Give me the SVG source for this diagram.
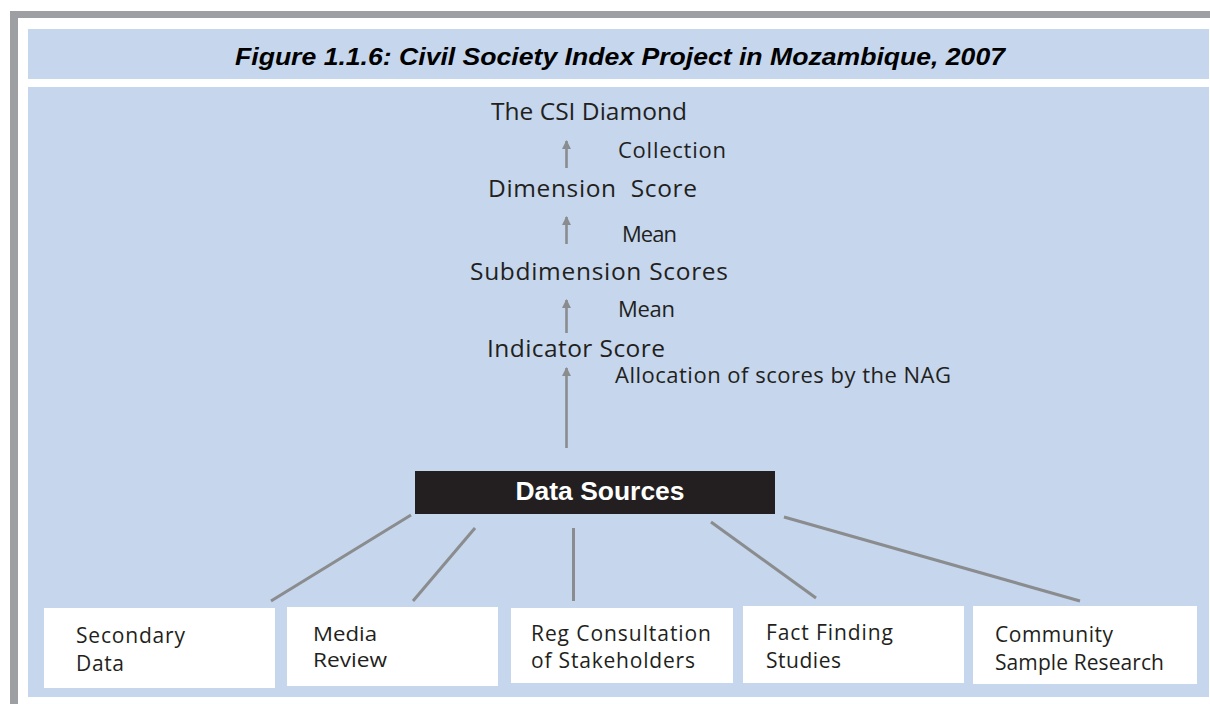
<svg xmlns="http://www.w3.org/2000/svg" width="1210" height="704" viewBox="0 0 1210 704">
<defs>
<style>
.band{fill:#c5d6ed}
.lbl{font-family:"Open Sans","Liberation Sans",sans-serif;fill:#231f20}
.big{font-size:24.5px}
.small{font-size:22px}
.box{fill:#ffffff}
.btxt{font-family:"Open Sans","Liberation Sans",sans-serif;fill:#231f20;font-size:21px}
.conn line{stroke:#8a8c8e;stroke-width:3}
.shaft{stroke:#8a8c8e;stroke-width:2.6}
</style>
<marker id="ah" viewBox="0 0 10 10" refX="9" refY="5" markerWidth="3.6" markerHeight="3.6" orient="auto" markerUnits="strokeWidth">
<path d="M0,0 L10,5 L0,10 Z" fill="#8a8c8e"/>
</marker>
</defs>
<rect x="0" y="0" width="1210" height="704" fill="#ffffff"/>
<rect x="10" y="11" width="1200" height="7" fill="#9d9fa2"/>
<rect x="10" y="11" width="8" height="693" fill="#9d9fa2"/>
<rect class="band" x="28" y="29" width="1181" height="50"/>
<rect class="band" x="28" y="87" width="1181" height="610"/>
<text x="235" y="65" font-family="'Liberation Sans',Arial,sans-serif" font-weight="bold" font-style="italic" font-size="23.5" fill="#000" textLength="770" lengthAdjust="spacingAndGlyphs">Figure 1.1.6: Civil Society Index Project in Mozambique, 2007</text>

<g id="csi-diamond"><text class="lbl big" x="491" y="120" textLength="196">The CSI Diamond</text></g>
<g id="dimension-score"><text class="lbl big" x="488" y="197" textLength="209" xml:space="preserve">Dimension  Score</text></g>
<g id="subdimension-scores"><text class="lbl big" x="470" y="280" textLength="258">Subdimension Scores</text></g>
<g id="indicator-score"><text class="lbl big" x="487" y="357" textLength="178">Indicator Score</text></g>

<g id="connectors">
<g id="arrows">
<line class="shaft" x1="566.5" y1="168" x2="566.5" y2="141" marker-end="url(#ah)"/>
<line class="shaft" x1="566.5" y1="244" x2="566.5" y2="217" marker-end="url(#ah)"/>
<line class="shaft" x1="566.5" y1="333" x2="566.5" y2="300" marker-end="url(#ah)"/>
<line class="shaft" x1="566.5" y1="448" x2="566.5" y2="368" marker-end="url(#ah)"/>
</g>
<text class="lbl small" x="618" y="158" textLength="108">Collection</text>
<text class="lbl small" x="622" y="242" textLength="55">Mean</text>
<text class="lbl small" x="618" y="317" textLength="57">Mean</text>
<text class="lbl small" x="615" y="383" textLength="336">Allocation of scores by the NAG</text>
<g class="conn">
<line x1="411" y1="515" x2="271" y2="601"/>
<line x1="475" y1="528" x2="413" y2="601"/>
<line x1="573.5" y1="528" x2="573.5" y2="601"/>
<line x1="711" y1="522" x2="816" y2="598"/>
<line x1="784" y1="517" x2="1080" y2="601"/>
</g>
</g>

<g id="data-sources">
<rect x="415" y="471" width="360" height="43" fill="#231f20"/>
<text x="600" y="500" text-anchor="middle" font-family="'Liberation Sans',Arial,sans-serif" font-weight="bold" font-size="26" fill="#ffffff" textLength="169" lengthAdjust="spacingAndGlyphs">Data Sources</text>
</g>

<g id="secondary-data">
<rect class="box" x="44" y="608" width="231" height="80"/>
<text class="btxt" x="76" y="643" textLength="109">Secondary</text>
<text class="btxt" x="76" y="671" textLength="48">Data</text>
</g>
<g id="media-review">
<rect class="box" x="287" y="607" width="211" height="79"/>
<text class="btxt" x="313" y="641" textLength="64" lengthAdjust="spacingAndGlyphs" style="font-size:19.5px">Media</text>
<text class="btxt" x="313" y="667" textLength="74" lengthAdjust="spacingAndGlyphs" style="font-size:19.5px">Review</text>
</g>
<g id="reg-consultation">
<rect class="box" x="511" y="608" width="222" height="75"/>
<text class="btxt" x="531" y="641" textLength="180">Reg Consultation</text>
<text class="btxt" x="531" y="668" textLength="164">of Stakeholders</text>
</g>
<g id="fact-finding">
<rect class="box" x="743" y="606" width="221" height="77"/>
<text class="btxt" x="766" y="640" textLength="127">Fact Finding</text>
<text class="btxt" x="766" y="668" textLength="75">Studies</text>
</g>
<g id="community-sample">
<rect class="box" x="973" y="606" width="224" height="78"/>
<text class="btxt" x="995" y="642" textLength="118">Community</text>
<text class="btxt" x="995" y="670" textLength="169">Sample Research</text>
</g>
</svg>
